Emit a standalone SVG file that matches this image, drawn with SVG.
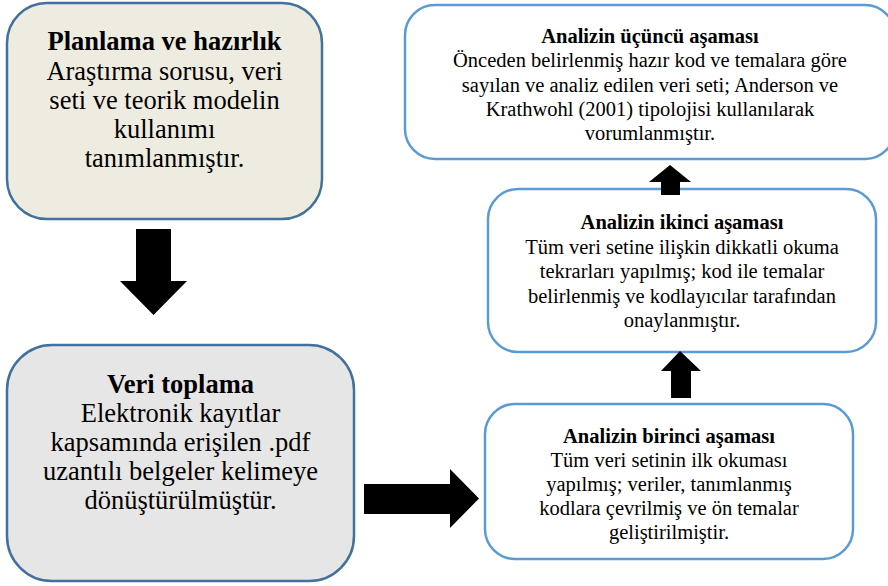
<svg xmlns="http://www.w3.org/2000/svg" width="888" height="586" viewBox="0 0 888 586">
<style>
text{font-family:"Liberation Serif","Times New Roman",serif;fill:#000;text-anchor:middle}
.big{font-size:26.5px}
.sm{font-size:20.5px}
.b{font-weight:bold}
.lbox{stroke:#41719C;stroke-width:2.5}
.rbox{fill:#fff;stroke:#5B9BD5;stroke-width:2.5}
.arr{fill:#000}
</style>
<rect width="888" height="586" fill="#fff"/>
<g id="planlama">
<rect class="lbox" x="7" y="3" width="315" height="216" rx="40" fill="#EEECE1"/>
<text class="big b" x="164.5" y="50">Planlama ve hazırlık</text>
<text class="big" x="164.5" y="79.5">Araştırma sorusu, veri</text>
<text class="big" x="164.5" y="108.5">seti ve teorik modelin</text>
<text class="big" x="164.5" y="138">kullanımı</text>
<text class="big" x="164.5" y="167">tanımlanmıştır.</text>
</g>
<g id="veri-toplama">
<rect class="lbox" x="7" y="345" width="347" height="236" rx="45" fill="#E7E6E6"/>
<text class="big b" x="180.5" y="393">Veri toplama</text>
<text class="big" x="180.5" y="422">Elektronik kayıtlar</text>
<text class="big" x="180.5" y="451">kapsamında erişilen .pdf</text>
<text class="big" x="180.5" y="480">uzantılı belgeler kelimeye</text>
<text class="big" x="180.5" y="509">dönüştürülmüştür.</text>
</g>
<g id="analiz-1">
<rect class="rbox" x="485" y="404" width="368" height="155" rx="30"/>
<text class="sm b" x="669" y="443">Analizin birinci aşaması</text>
<text class="sm" x="669" y="467">Tüm veri setinin ilk okuması</text>
<text class="sm" x="669" y="491">yapılmış; veriler, tanımlanmış</text>
<text class="sm" x="669" y="515">kodlara çevrilmiş ve ön temalar</text>
<text class="sm" x="669" y="539">geliştirilmiştir.</text>
</g>
<g id="analiz-2">
<rect class="rbox" x="488" y="189" width="388" height="163" rx="30"/>
<text class="sm b" x="682" y="229">Analizin ikinci aşaması</text>
<text class="sm" x="682" y="253.5">Tüm veri setine ilişkin dikkatli okuma</text>
<text class="sm" x="682" y="278">tekrarları yapılmış; kod ile temalar</text>
<text class="sm" x="682" y="302.5">belirlenmiş ve kodlayıcılar tarafından</text>
<text class="sm" x="682" y="327">onaylanmıştır.</text>
</g>
<g id="analiz-3">
<rect class="rbox" x="405" y="5" width="490" height="154" rx="30"/>
<text class="sm b" x="650" y="43">Analizin üçüncü aşaması</text>
<text class="sm" x="650" y="67.3">Önceden belirlenmiş hazır kod ve temalara göre</text>
<text class="sm" x="650" y="91.5">sayılan ve analiz edilen veri seti; Anderson ve</text>
<text class="sm" x="650" y="115.8">Krathwohl (2001) tipolojisi kullanılarak</text>
<text class="sm" x="650" y="140">vorumlanmıştır.</text>
</g>
<g id="connectors">
<polygon class="arr" points="136,229 171,229 171,281 187,281 153.5,315 120,281 136,281"/>
<polygon class="arr" points="364,484 450,484 450,469 479,498.5 450,528 450,514 364,514"/>
<polygon class="arr" points="671,398 691,398 691,371 701,371 680,351 661,371 671,371"/>
<polygon class="arr" points="661,195 680,195 680,182 691,182 670,165 649,182 661,182"/>
</g>
</svg>
